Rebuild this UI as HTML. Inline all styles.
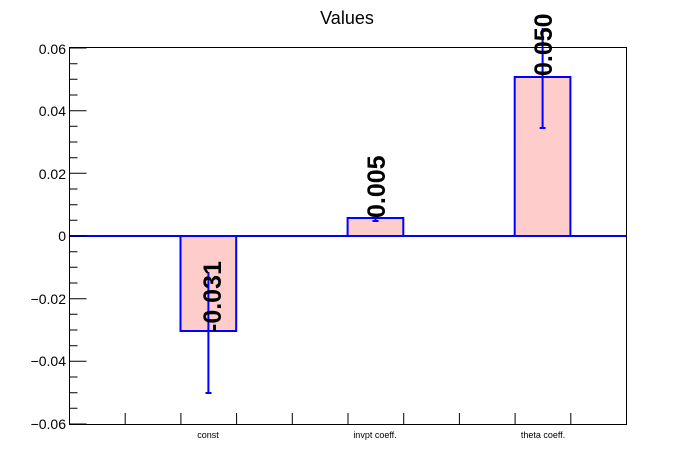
<!DOCTYPE html>
<html><head><meta charset="utf-8"><style>body{margin:0;background:#fff}svg{display:block}</style></head><body>
<svg width="696" height="472" xmlns="http://www.w3.org/2000/svg" font-family="Liberation Sans, sans-serif">
<rect width="696" height="472" fill="#fff"/>
<text x="347" y="24" font-size="18" text-anchor="middle">Values</text>
<g fill="#ffcccc" stroke="#0000ff" stroke-width="2">
<rect x="180.5" y="236" width="55.7" height="95"/>
<rect x="347.6" y="218" width="55.7" height="18"/>
<rect x="514.7" y="77" width="55.7" height="159"/>
</g>
<g stroke="#0000ff" stroke-width="2">
<line x1="208.4" y1="272" x2="208.4" y2="394"/>
<line x1="205.5" y1="393" x2="211.5" y2="393"/>
<line x1="375.5" y1="214" x2="375.5" y2="222"/>
<line x1="372.5" y1="221" x2="378.5" y2="221"/>
<line x1="542.6" y1="28" x2="542.6" y2="128"/>
<line x1="539.6" y1="128" x2="545.6" y2="128"/>
<line x1="70" y1="236" x2="627" y2="236"/>
</g>
<g stroke="#000" stroke-width="1" fill="none">
<rect x="69.5" y="47.5" width="557" height="377"/>
<path d="M69.5 48h17M69.5 110.7h17M69.5 173.3h17M69.5 236h17M69.5 298.7h17M69.5 361.3h17M69.5 424h17"/>
<path d="M69.5 63.7h8M69.5 79.3h8M69.5 95h8M69.5 126.3h8M69.5 142h8M69.5 157.7h8M69.5 189h8M69.5 204.7h8M69.5 220.3h8M69.5 251.7h8M69.5 267.3h8M69.5 283h8M69.5 314.3h8M69.5 330h8M69.5 345.7h8M69.5 377h8M69.5 392.7h8M69.5 408.3h8"/>
<path d="M125.2 424v-11M180.9 424v-11M236.6 424v-11M292.3 424v-11M348 424v-11M403.7 424v-11M459.4 424v-11M515.1 424v-11M570.8 424v-11"/>
</g>
<g font-size="14" text-anchor="end">
<text x="66" y="54">0.06</text>
<text x="66" y="116">0.04</text>
<text x="66" y="179">0.02</text>
<text x="66" y="241">0</text>
<text x="66" y="304">−0.02</text>
<text x="66" y="366">−0.04</text>
<text x="66" y="429">−0.06</text>
</g>
<g font-size="9" text-anchor="middle">
<text x="208" y="438">const</text>
<text x="375" y="438">invpt coeff.</text>
<text x="543" y="438">theta coeff.</text>
</g>
<g font-size="25" font-weight="bold">
<text transform="translate(221,332) rotate(-90)">-0.031</text>
<text transform="translate(385,218) rotate(-90)">0.005</text>
<text transform="translate(552,76) rotate(-90)">0.050</text>
</g>
</svg>
</body></html>
